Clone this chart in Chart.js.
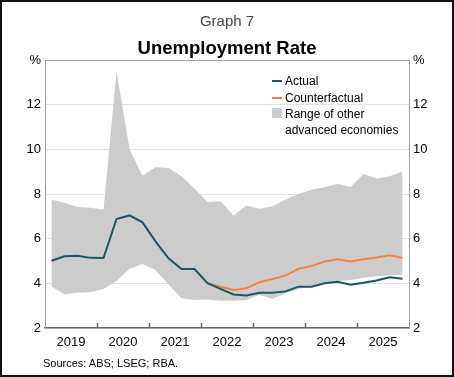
<!DOCTYPE html>
<html>
<head>
<meta charset="utf-8">
<script src="https://cdn.jsdelivr.net/npm/chart.js@4"></script>
<style>
  body { margin: 0; background: #fff; }
  #wrap { position: relative; width: 454px; height: 377px; font-family: "Liberation Sans", Arial, sans-serif; }
  #wrap canvas { position: absolute; left: 0; top: 0; }
  .frame { position: absolute; left: 0; top: 0; width: 454px; height: 377px; box-sizing: border-box; border: 2px solid #111; pointer-events: none; }
  .txt { position: absolute; white-space: nowrap; }
  .sw { position: absolute; }
</style>
</head>
<body>
<div id="wrap">
  <canvas id="unempChart" width="454" height="377"></canvas>
  <div class="txt" style="left:0;width:454px;text-align:center;top:12px;line-height:18px;font-size:15px;color:#444;">Graph 7</div>
  <div class="txt" style="left:0;width:454px;text-align:center;top:37px;line-height:22px;font-size:18.5px;font-weight:bold;color:#000;">Unemployment Rate</div>

  <div class="sw" style="left:272px;top:80px;width:10px;height:2px;background:#1d5466;"></div>
  <div class="txt" style="left:285px;top:73px;line-height:16px;font-size:12px;">Actual</div>
  <div class="sw" style="left:272px;top:97px;width:10px;height:2px;background:#f5823a;"></div>
  <div class="txt" style="left:285px;top:90px;line-height:16px;font-size:12px;">Counterfactual</div>
  <div class="sw" style="left:272px;top:108px;width:10px;height:10px;background:#cccccc;"></div>
  <div class="txt" style="left:285px;top:106px;line-height:16px;font-size:12px;">Range of other</div>
  <div class="txt" style="left:285px;top:122px;line-height:16px;font-size:12px;">advanced economies</div>

  <div class="txt" style="left:43px;top:356px;line-height:14px;font-size:11px;">Sources: ABS; LSEG; RBA.</div>
  <div class="frame"></div>
</div>
<script>
// quarterly data, Mar-2019 .. Dec-2025
var quarters = [
  'Mar-2019','Jun-2019','Sep-2019','Dec-2019',
  'Mar-2020','Jun-2020','Sep-2020','Dec-2020',
  'Mar-2021','Jun-2021','Sep-2021','Dec-2021',
  'Mar-2022','Jun-2022','Sep-2022','Dec-2022',
  'Mar-2023','Jun-2023','Sep-2023','Dec-2023',
  'Mar-2024','Jun-2024','Sep-2024','Dec-2024',
  'Mar-2025','Jun-2025','Sep-2025','Dec-2025'
];
var actual = [5.01, 5.21, 5.24, 5.14, 5.13, 6.88, 7.04, 6.73, 5.88, 5.12, 4.64, 4.64,
              4.01, 3.75, 3.50, 3.46, 3.58, 3.58, 3.64, 3.85, 3.85, 4.00, 4.07, 3.94,
              4.03, 4.13, 4.27, 4.21];
var counterfactual = [null, null, null, null, null, null, null, null, null, null, null, null,
              4.01, 3.85, 3.70, 3.78, 4.05, 4.19, 4.35, 4.65, 4.77, 4.98, 5.08, 4.98,
              5.08, 5.16, 5.26, 5.14];
var rangeLow = [3.86, 3.50, 3.58, 3.60, 3.75, 4.10, 4.65, 4.87, 4.60, 3.95, 3.33, 3.25,
              3.28, 3.22, 3.22, 3.25, 3.49, 3.31, 3.55, 3.75, 3.85, 4.00, 4.10, 4.15,
              4.25, 4.32, 4.36, 4.38];
var rangeHigh = [7.75, 7.60, 7.42, 7.38, 7.30, 13.50, 10.00, 8.82, 9.20, 9.16, 8.80, 8.25,
              7.64, 7.67, 7.04, 7.48, 7.34, 7.45, 7.75, 8.00, 8.19, 8.30, 8.46, 8.31,
              8.90, 8.69, 8.79, 9.01];
var years = [2019, 2020, 2021, 2022, 2023, 2024, 2025];
var yTicks = [2, 4, 6, 8, 10, 12, 14];

var frameCol = '#a3a3a3';
var tickFont = { family: 'Liberation Sans', size: 13 };

// small year tick marks pointing up from the bottom axis
var yearTicks = {
  id: 'yearTicks',
  afterDatasetsDraw: function(chart) {
    var s = chart.scales.yr, ctx = chart.ctx, b = chart.chartArea.bottom;
    ctx.save();
    ctx.strokeStyle = '#666';
    ctx.lineWidth = 1.5;
    for (var i = 1; i < years.length; i++) {
      var px = Math.round(s.getPixelForValue(years[i])) + 0.5;
      ctx.beginPath();
      ctx.moveTo(px, b);
      ctx.lineTo(px, b - 5);
      ctx.stroke();
    }
    ctx.restore();
  }
};

var yAxis = function(pos) {
  return {
    type: 'linear', position: pos, min: 2, max: 14,
    afterBuildTicks: function(a) { a.ticks = yTicks.map(function(v) { return { value: v }; }); },
    afterFit: function(a) { a.width = 45; },
    ticks: {
      font: tickFont, color: '#000', padding: 4,
      callback: function(v) { return v === 14 ? '%' : v; }
    },
    grid: {
      drawOnChartArea: pos === 'left', drawTicks: false,
      color: function(c) { return c.tick && c.tick.value === 14 ? frameCol : '#e2e2e2'; }
    },
    border: { display: true, color: frameCol, width: 1 }
  };
};

new Chart(document.getElementById('unempChart').getContext('2d'), {
  type: 'line',
  data: {
    labels: quarters,
    datasets: [
      { label: 'Actual', data: actual, borderColor: '#1d5466', borderWidth: 2, pointRadius: 0, tension: 0, fill: false },
      { label: 'Counterfactual', data: counterfactual, borderColor: '#f5823a', borderWidth: 2, pointRadius: 0, tension: 0, fill: false },
      { label: 'low', data: rangeLow, borderWidth: 0, borderColor: 'rgba(0,0,0,0)', pointRadius: 0, fill: false },
      { label: 'Range of other advanced economies', data: rangeHigh, borderWidth: 0, borderColor: 'rgba(0,0,0,0)',
        backgroundColor: '#cccccc', pointRadius: 0, fill: '-1' }
    ]
  },
  options: {
    responsive: false,
    animation: false,
    layout: { padding: { top: 60, left: 0, right: 0, bottom: 0 } },
    plugins: { legend: { display: false }, tooltip: { enabled: false }, title: { display: false } },
    scales: {
      x: { type: 'category', display: false, offset: true },
      yr: {
        type: 'linear', position: 'bottom', min: 2019, max: 2026,
        afterBuildTicks: function(a) { a.ticks = years.map(function(y) { return { value: y + 0.5 }; }); },
        afterFit: function(a) { a.height = 49; },
        ticks: { font: tickFont, color: '#000', padding: 7, maxRotation: 0,
                 callback: function(v) { return String(Math.floor(v)); } },
        grid: { drawOnChartArea: false, drawTicks: false },
        border: { display: true, color: '#666', width: 1.5 }
      },
      y: yAxis('left'),
      y2: yAxis('right')
    }
  },
  plugins: [yearTicks]
});
</script>
</body>
</html>
